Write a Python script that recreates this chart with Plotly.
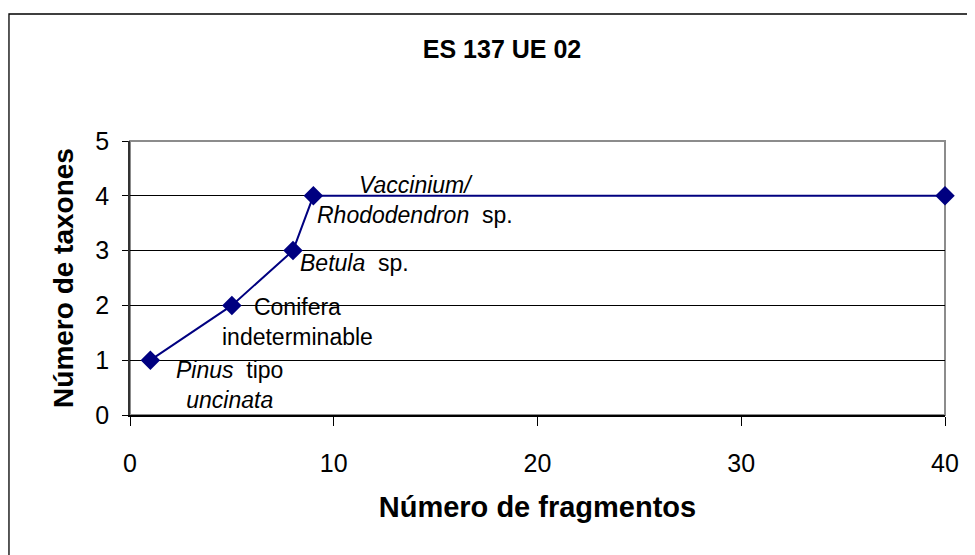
import plotly.graph_objects as go

# fragments counted vs taxa found
fragmentos = [1, 5, 8, 9, 40]
taxones = [1, 2, 3, 4, 4]

# labels for the points (text, x, y, anchor)
etiquetas = [
    ("<i>Pinus</i>  tipo<br><i>uncinata</i>", 4.9, 0.54, "center"),
    ("Conifera<br>indeterminable", 8.2, 1.70, "center"),
    ("<i>Betula</i>  sp.", 8.25, 2.77, "left"),
    ("<i>Vaccinium/</i><br><i>Rhododendron</i>  sp.", 14.0, 3.92, "center"),
]

x_ticks = [0, 10, 20, 30, 40]
y_ticks = [0, 1, 2, 3, 4, 5]

font = "Liberation Sans, Arial, sans-serif"
navy = "#000080"

fig = go.Figure()
fig.add_trace(go.Scatter(
    x=fragmentos, y=taxones,
    mode="lines+markers",
    line=dict(color=navy, width=2),
    marker=dict(symbol="diamond", size=15, color=navy),
    cliponaxis=False,
    showlegend=False,
))

for txt, x, y, anchor in etiquetas:
    fig.add_annotation(x=x, y=y, text=txt, showarrow=False,
                       xanchor=anchor, yanchor="middle", align="center",
                       font=dict(family=font, size=23, color="black"))

fig.update_layout(
    width=975, height=555,
    margin=dict(l=122, r=38, t=133, b=148),
    paper_bgcolor="white", plot_bgcolor="white",
    font=dict(family=font, color="black"),
    title=dict(text="<b>ES 137 UE 02</b>", x=494 / 975, xanchor="center",
               y=1 - 41 / 555, yanchor="middle",
               font=dict(family=font, size=25, color="black")),
    shapes=[
        # outer chart border (only top and left visible)
        dict(type="rect", xref="paper", yref="paper",
             x0=-0.1485, x1=1.2, y0=-0.7, y1=1.4635,
             line=dict(color="black", width=1.3)),
        # plot area border
        dict(type="rect", xref="paper", yref="paper",
             x0=0, x1=1, y0=0, y1=1,
             line=dict(color="#8c8c8c", width=2), layer="below"),
    ],
)

fig.update_xaxes(
    range=[0, 40], tickvals=x_ticks, showgrid=False, zeroline=False,
    showline=True, linecolor="black", linewidth=1.5,
    ticks="outside", ticklen=9, tickcolor="black",
    ticklabelstandoff=16,
    tickfont=dict(family=font, size=25),
    title=dict(text="<b>Número de fragmentos</b>", standoff=21,
               font=dict(family=font, size=29)),
)
fig.update_yaxes(
    range=[0, 5], tickvals=y_ticks, showgrid=True, gridcolor="black",
    gridwidth=1, zeroline=False,
    showline=True, linecolor="#333333", linewidth=1.5,
    ticks="outside", ticklen=6, tickcolor="black",
    ticklabelstandoff=8,
    tickfont=dict(family=font, size=25),
    title=dict(text="<b>Número de taxones</b>", standoff=14,
               font=dict(family=font, size=28)),
)

fig.write_html("out.html")
